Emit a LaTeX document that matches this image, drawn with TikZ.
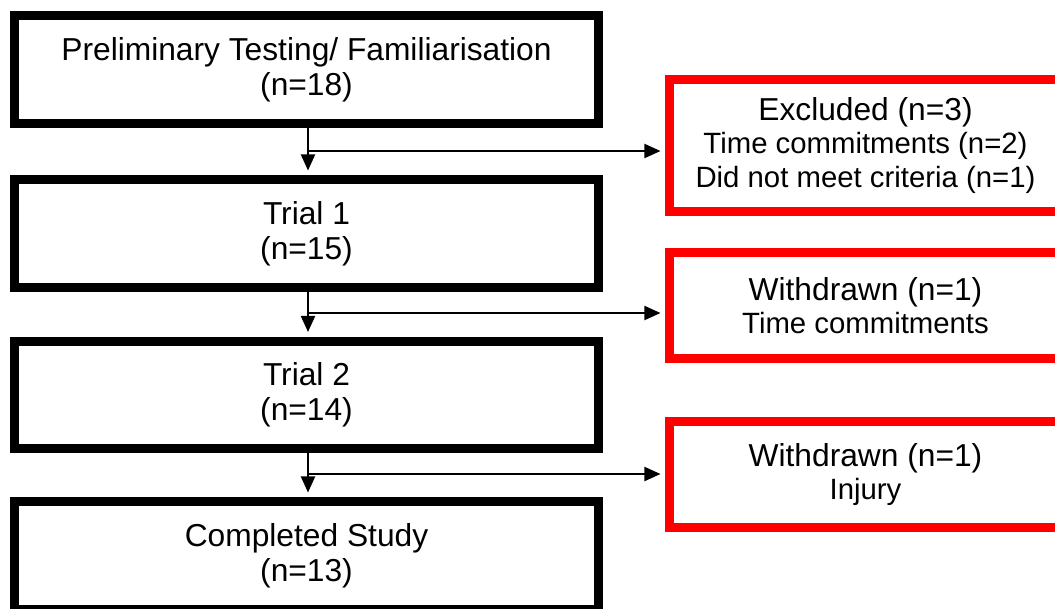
\documentclass[tikz,border=0pt]{standalone}
\usepackage{fontspec}
\setmainfont{Liberation Sans}
\usetikzlibrary{arrows.meta}
\tikzset{
  mainbox/.style={draw=black, line width=6.75pt, rectangle, inner sep=0pt,
    minimum width=438pt, align=center,
    font=\fontsize{23.8pt}{26.5pt}\selectfont},
  exbox/.style={draw=red, line width=6.75pt, rectangle, inner sep=0pt,
    minimum width=294pt, align=center,
    font=\fontsize{22pt}{24.8pt}\selectfont},
  big/.style={font=\fontsize{23.8pt}{26.5pt}\selectfont},
  flow/.style={line width=1.5pt, -{Triangle[length=12pt,width=10.5pt]}, shorten >=3.4pt},
  seg/.style={line width=1.5pt}
}
\begin{document}
\begin{tikzpicture}[x=0.75pt,y=-0.75pt]
\clip (0,0) rectangle (1055,608);
\fill[white] (0,0) rectangle (1055,608);
% main boxes
\node[mainbox, minimum height=81pt] (b1) at (306.5,69.5) {Preliminary Testing/ Familiarisation\\(n=18)};
\node[mainbox, minimum height=81pt] (b2) at (306.5,233.5) {Trial 1\\(n=15)};
\node[mainbox, minimum height=80.6pt] (b3) at (306.5,394.75) {Trial 2\\(n=14)};
\node[mainbox, minimum height=81pt] (b4) at (306.5,555.5) {Completed Study\\(n=13)};
% excluded / withdrawn boxes
\node[exbox, minimum height=99pt] (r1) at (865.5,145.5) {{\fontsize{23.8pt}{26.5pt}\selectfont Excluded (n=3)}\\Time commitments (n=2)\\Did not meet criteria (n=1)};
\node[exbox, minimum height=79.5pt] (r2) at (865.5,305.5) {{\fontsize{23.8pt}{26.5pt}\selectfont Withdrawn (n=1)}\\Time commitments};
\node[exbox, minimum height=79.5pt] (r3) at (865.5,474.5) {{\fontsize{23.8pt}{26.5pt}\selectfont Withdrawn (n=1)}\\Injury};
% junctions
\coordinate (j1) at (308,151);
\coordinate (j2) at (308,313);
\coordinate (j3) at (308,474);
% connectors
\draw[flow] (b1.south -| j1) -- (b2.north -| j1);
\draw[flow] (b2.south -| j2) -- (b3.north -| j2);
\draw[flow] (b3.south -| j3) -- (b4.north -| j3);
\draw[flow] (j1) -- (j1 -| r1.west);
\draw[flow] (j2) -- (j2 -| r2.west);
\draw[flow] (j3) -- (j3 -| r3.west);
\end{tikzpicture}
\end{document}
